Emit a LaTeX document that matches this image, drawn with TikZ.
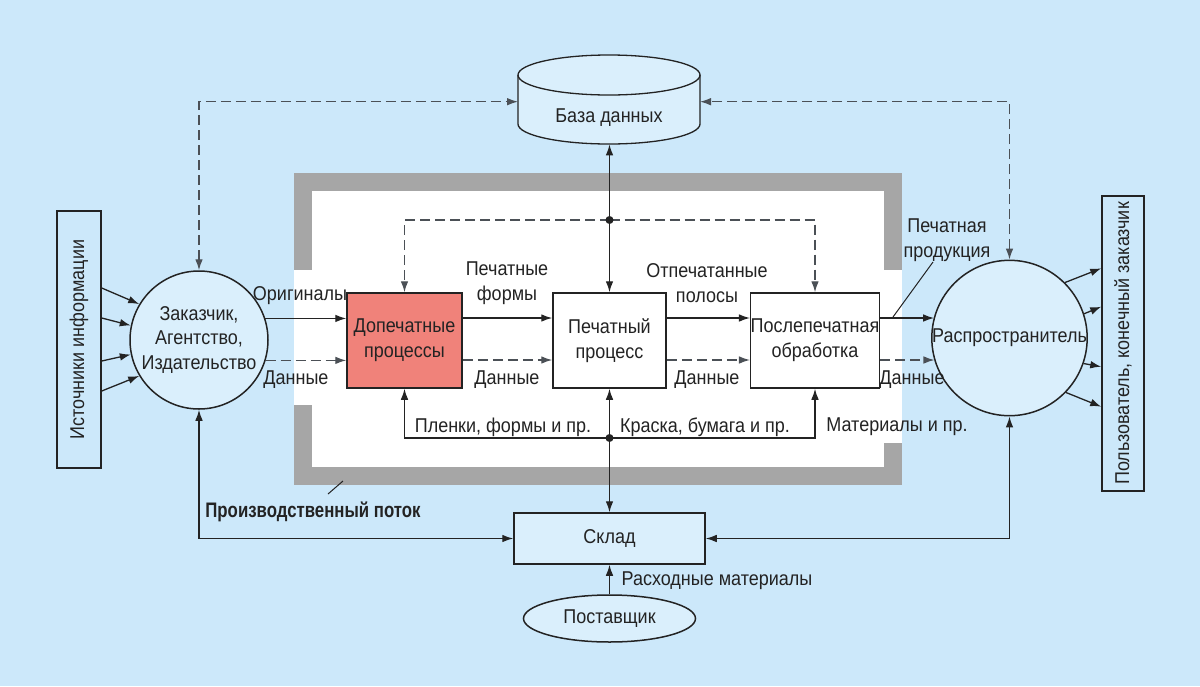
\documentclass[tikz,border=0pt]{standalone}
\usepackage{fontspec}
\setmainfont{Liberation Sans}[FakeStretch=0.9]
\newfontfamily\boldcond{Liberation Sans}[FakeStretch=0.8]
\usetikzlibrary{arrows.meta,shapes.geometric}
\definecolor{bgblue}{RGB}{204,232,250}
\definecolor{lightblue}{RGB}{218,239,252}
\definecolor{framegray}{RGB}{166,166,166}
\definecolor{prered}{RGB}{240,130,122}
\definecolor{ink}{RGB}{35,35,35}
\definecolor{dashink}{RGB}{75,80,86}
\begin{document}
\begin{tikzpicture}[x=0.5pt,y=-0.5pt,
  font=\fontsize{10}{12.4}\selectfont,
  >={Latex[length=5.5pt,width=3.8pt]},
  line/.style={draw=ink, line width=0.65pt},
  dashln/.style={draw=dashink, dash pattern=on 5pt off 2.5pt},
  box/.style={draw=ink, line width=0.75pt, align=center, inner sep=0pt, text=ink},
  lbl/.style={align=center, inner sep=0pt, text=ink}]
\useasboundingbox (0,0) rectangle (1200,686);
\fill[bgblue] (0,0) rectangle (1200,686);
% production frame
\fill[framegray] (294,173) rectangle (902,485);
\fill[white] (312,191) rectangle (884,467);
\fill[white] (294,270) rectangle (312.5,405);
\fill[white] (883.5,270) rectangle (902,443);
% database cylinder
\fill[lightblue] (518,75) rectangle (700,124);
\fill[lightblue] (609,124) ellipse [x radius=45.5pt, y radius=10pt];
\draw[line,fill=lightblue] (609,75) ellipse [x radius=45.5pt, y radius=10pt];
\draw[line] (518,75) -- (518,124) arc[start angle=180, end angle=360, x radius=45.5pt, y radius=10pt] -- (700,75);
\node[inner sep=0pt, minimum width=91pt, minimum height=44.5pt] (db) at (609,99.5) {};
\node[lbl] (dbt) at (609,118) {База данных};
% nodes
\node[box, circle, fill=lightblue, minimum size=69pt] (cust) at (199,340) {Заказчик,\\Агентство,\\Издательство};
\node[box, circle, fill=lightblue, minimum size=74pt] (dist) at (1009.5,338) {Распространитель};
\node[box, rotate=90, minimum width=128.5pt, minimum height=22pt] (src) at (79,339.5) {Источники информации};
\node[box, rotate=90, minimum width=147.5pt, minimum height=21pt] (usr) at (1123,343.5) {Пользователь, конечный заказчик};
\node[box, fill=prered, minimum width=57.5pt, minimum height=47.5pt] (pre) at (404.5,340.5) {Допечатные\\процессы};
\node[box, fill=white, minimum width=56.5pt, minimum height=47.5pt] (pr) at (609.5,340.5) {Печатный\\процесс};
\node[box, fill=white, minimum width=63pt, minimum height=47.5pt] (post) at (815,340.5) {Послепечатная\\обработка};
\node[box, fill=lightblue, minimum width=95.5pt, minimum height=25.5pt] (sk) at (609.5,538.5) {Склад};
\node[box, ellipse, fill=lightblue, minimum width=86pt, minimum height=23.5pt] (sup) at (609.5,618.5) {Поставщик};
\coordinate (j1) at (609.5,220);
\coordinate (j2) at (609.5,438);
\coordinate (dbL) at (518,101.7);
\coordinate (dbR) at (700,101.7);
% sources -> customer
\draw[line,->] ([yshift=25.75pt]src.south) -- (cust.149);
\draw[line,->] ([yshift=10.75pt]src.south) -- (cust.168);
\draw[line,->] ([yshift=-10.75pt]src.south) -- (cust.192);
\draw[line,->] ([yshift=-25.75pt]src.south) -- (cust.211);
% distributor -> users
\draw[line,->] (dist.45) -- ([yshift=37.6pt]usr.north);
\draw[line,->] (dist.18.5) -- ([yshift=18.4pt]usr.north);
\draw[line,->] (dist.341.5) -- ([yshift=-11.6pt]usr.north);
\draw[line,->] (dist.316) -- ([yshift=-31.6pt]usr.north);
% database links
\draw[line,dashln,<->] (cust.north) |- (dbL);
\draw[line,dashln,<->] (dist.north) |- (dbR);
\draw[line,<->] (pr.north |- db.south) -- (pr.north);
\draw[line,dashln,->] (j1) -| (pre.north);
\draw[line,dashln,->] (j1) -| (post.north);
\fill[ink] (j1) circle[radius=2pt];
% main flow
\draw[line,->] (cust.18) -- (cust.18 -| pre.west);
\draw[line,dashln,->] (cust.-17) -- (cust.-17 -| pre.west);
\draw[line,->] ([yshift=11.25pt]pre.east) -- ([yshift=11.25pt]pr.west);
\draw[line,dashln,->] ([yshift=-9.75pt]pre.east) -- ([yshift=-9.75pt]pr.west);
\draw[line,->] ([yshift=11.25pt]pr.east) -- ([yshift=11.25pt]post.west);
\draw[line,dashln,->] ([yshift=-9.75pt]pr.east) -- ([yshift=-9.75pt]post.west);
\coordinate (o1) at ([yshift=11.25pt]post.east);
\coordinate (o2) at ([yshift=-9.75pt]post.east);
\draw[line,->] (o1) -- (o1 -| dist.164);
\draw[line,dashln,->] (o2) -- (o2 -| dist.197);
% materials
\draw[line,->] (j2) -| (pre.south);
\draw[line,->] (j2) -| (post.south);
\draw[line,->] (j2) -- (pr.south);
\draw[line,->] (j2) -- (sk.north);
\fill[ink] (j2) circle[radius=2pt];
% warehouse
\draw[line,<->] (cust.south) |- (sk.west);
\draw[line,<->] (dist.south) |- (sk.east);
\draw[line,->] (sup.north) -- (sk.south);
% labels
\node[lbl] (l1) at (300,296) {Оригиналы};
\node[lbl] (l2) at (296,380) {Данные};
\node[lbl] (l3) at (507,283) {Печатные\\формы};
\node[lbl] (l4) at (507,380) {Данные};
\node[lbl] (l5) at (707,283) {Отпечатанные\\полосы};
\node[lbl] (l6) at (707,380) {Данные};
\node[lbl] (l7) at (912,380) {Данные};
\node[lbl] (l8) at (947,240) {Печатная\\продукция};
\node[lbl] (l9) at (503,427) {Пленки, формы и пр.};
\node[lbl] (l10) at (705,427) {Краска, бумага и пр.};
\node[lbl] (l11) at (897,427) {Материалы и пр.};
\node[lbl] (l12) at (313,512) {\boldcond\fontsize{10.5}{12}\selectfont\bfseries Производственный поток};
\node[lbl] (l13) at (717,581) {Расходные материалы};
\draw[line,line width=0.5pt] (933,262) -- (893,317);
\draw[line,line width=0.5pt] (328,494) -- (343,481);
\end{tikzpicture}
\end{document}
